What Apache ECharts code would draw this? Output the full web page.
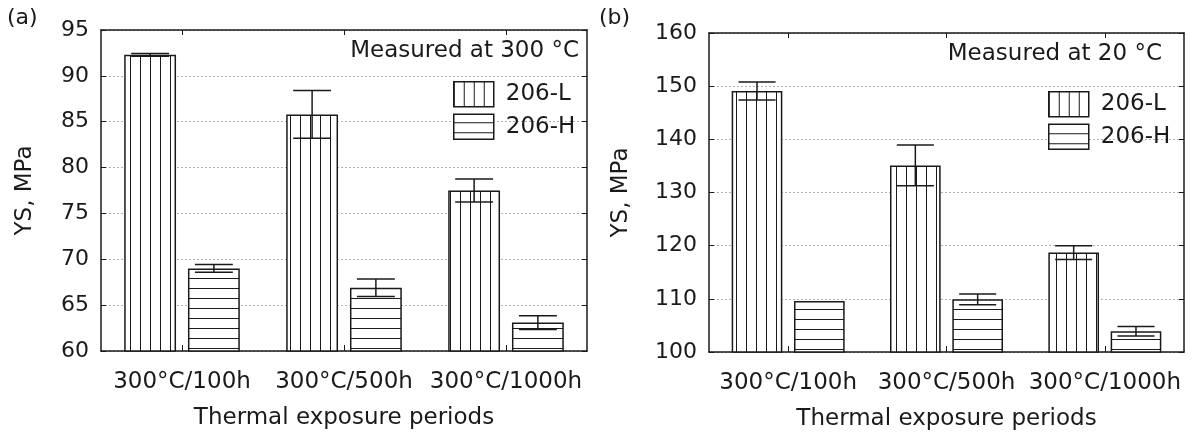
<!DOCTYPE html>
<html>
<head>
<meta charset="utf-8">
<script src="https://cdn.jsdelivr.net/npm/echarts@6/dist/echarts.min.js"></script>
<style>
  html, body { margin: 0; padding: 0; background: #fff; }
  #wrap { position: relative; width: 1192px; height: 438px; }
  .panel { position: absolute; top: 0; width: 596px; height: 438px; }
</style>
</head>
<body>
<div id="wrap">
  <div id="chartA" class="panel" style="left:0"></div>
  <div id="chartB" class="panel" style="left:596px"></div>
</div>
<script>
// categories / legend
var categories = ['300°C/100h', '300°C/500h', '300°C/1000h'];
var seriesNames = ['206-L', '206-H'];

// (a) measured at 300 C
var ysA_L = [92.3, 85.8, 77.5];
var ysA_H = [69.0, 66.9, 63.1];
var errA_L = [0.15, 2.6, 1.25];
var errA_H = [0.42, 0.95, 0.75];
var ticksA = { min: 60, max: 95, interval: 5 };

// (b) measured at 20 C
var ysB_L = [149.1, 135.1, 118.7];
var ysB_H = [109.6, 109.9, 103.9];
var errB_L = [1.7, 3.85, 1.3];
var errB_H = [0, 1.0, 0.9];
var ticksB = { min: 100, max: 160, interval: 10 };

var FONT = 'DejaVu Sans';
var INK = '#1a1a1a';
var BAR_W = 0.32;   // bar width, part of the band
var GAP = 0.23;     // gap between the pair, part of the bar width
var CAP = 0.117;    // half cap width, part of the band

// striped fill, drawn once into a small canvas
function stripe(vertical, offset) {
	var c = document.createElement('canvas');
	c.width = 10;
	c.height = 10;
	var ctx = c.getContext('2d');
	ctx.fillStyle = '#fff';
	ctx.fillRect(0, 0, 10, 10);
	ctx.fillStyle = INK;
	if (vertical) {
		ctx.fillRect(offset, 0, 1, 10);
	} else {
		ctx.fillRect(0, offset, 10, 1);
	}
	return { image: c, repeat: 'repeat' };
}

function errData(vals, errs, side) {
	var out = [];
	for (var i = 0; i < vals.length; i++) {
		if (errs[i] > 0) {
			out.push([i, vals[i] - errs[i], vals[i] + errs[i], side]);
		}
	}
	return out;
}

function renderErr(params, api) {
	var band = api.size([1, 0])[0];
	var off = api.value(3) * band * (BAR_W + BAR_W * GAP) / 2;
	var top = api.coord([api.value(0), api.value(2)]);
	var bot = api.coord([api.value(0), api.value(1)]);
	var x = top[0] + off;
	var half = band * CAP;
	var st = { stroke: INK, lineWidth: 1.5 };
	return {
		type: 'group',
		children: [
			{ type: 'line', shape: { x1: x, y1: top[1], x2: x, y2: bot[1] }, style: st },
			{ type: 'line', shape: { x1: x - half, y1: top[1], x2: x + half, y2: top[1] }, style: st },
			{ type: 'line', shape: { x1: x - half, y1: bot[1], x2: x + half, y2: bot[1] }, style: st }
		]
	};
}

function buildOption(cfg) {
	var lineStyle = { color: INK, width: 1.5 };
	var yBase = {
		type: 'value',
		min: cfg.ticks.min,
		max: cfg.ticks.max,
		interval: cfg.ticks.interval,
		axisLine: { show: true, lineStyle: lineStyle },
		axisTick: { show: true, inside: true, length: 5, lineStyle: { color: INK, width: 1 } }
	};
	var xBase = {
		type: 'category',
		data: categories,
		axisLine: { show: true, lineStyle: lineStyle },
		axisTick: { show: true, inside: true, alignWithLabel: true, length: 6, lineStyle: { color: INK, width: 1 } }
	};
	return {
		animation: false,
		backgroundColor: '#fff',
		title: [{
			text: cfg.tag,
			left: cfg.tagLeft,
			top: 7,
			padding: 0,
			textStyle: { fontFamily: FONT, fontSize: 22, fontWeight: 'normal', color: INK }
		}, {
			text: cfg.note,
			right: cfg.noteRight,
			top: cfg.noteTop,
			padding: 0,
			textStyle: { fontFamily: FONT, fontSize: 23, fontWeight: 'normal', color: INK }
		}],
		legend: {
			data: seriesNames,
			orient: 'vertical',
			left: cfg.legendLeft,
			top: cfg.legendTop,
			itemWidth: 40,
			itemHeight: 25,
			itemGap: 6,
			icon: 'rect',
			selectedMode: false,
			itemStyle: { borderColor: INK, borderWidth: 1.5 },
			textStyle: { fontFamily: FONT, fontSize: 23, color: INK, padding: [0, 0, 0, 7] }
		},
		grid: {
			left: cfg.grid[0], top: cfg.grid[1], right: cfg.grid[2], bottom: cfg.grid[3],
			containLabel: false
		},
		xAxis: [Object.assign({}, xBase, {
			position: 'bottom',
			name: 'Thermal exposure periods',
			nameLocation: 'middle',
			nameGap: 56,
			nameTextStyle: { fontFamily: FONT, fontSize: 23, color: INK },
			axisLabel: { interval: 0, fontFamily: FONT, fontSize: 23, color: INK, margin: 20 }
		}), Object.assign({}, xBase, {
			position: 'top',
			axisLabel: { show: false },
			axisTick: { show: true, inside: true, alignWithLabel: true, length: 5, lineStyle: { color: INK, width: 1 } }
		})],
		yAxis: [Object.assign({}, yBase, {
			position: 'left',
			name: 'YS, MPa',
			nameLocation: 'middle',
			nameRotate: 90,
			nameGap: cfg.nameGap,
			nameTextStyle: { fontFamily: FONT, fontSize: 23, color: INK },
			axisLabel: { fontFamily: FONT, fontSize: 22, color: INK, margin: 12 },
			splitLine: { show: true, lineStyle: { color: '#b0b0b0', width: 1, type: [2, 2] } }
		}), Object.assign({}, yBase, {
			position: 'right',
			axisLabel: { show: false },
			splitLine: { show: false }
		})],
		series: [{
			name: seriesNames[0],
			type: 'bar',
			data: cfg.L,
			barWidth: (BAR_W * 100) + '%',
			barGap: (GAP * 100) + '%',
			itemStyle: { color: stripe(true, cfg.vOff), borderColor: INK, borderWidth: 1.5 },
			emphasis: { disabled: true }
		}, {
			name: seriesNames[1],
			type: 'bar',
			data: cfg.H,
			barWidth: (BAR_W * 100) + '%',
			barGap: (GAP * 100) + '%',
			itemStyle: { color: stripe(false, cfg.hOff), borderColor: INK, borderWidth: 1.5 },
			emphasis: { disabled: true }
		}, {
			type: 'custom',
			renderItem: renderErr,
			data: errData(cfg.L, cfg.errL, -1).concat(errData(cfg.H, cfg.errH, 1)),
			encode: { x: 0, y: [1, 2] },
			z: 5,
			silent: true
		}]
	};
}

var chartA = echarts.init(document.getElementById('chartA'));
chartA.setOption(buildOption({
	tag: '(a)', tagLeft: 7,
	note: 'Measured at 300 °C', noteRight: 17, noteTop: 40,
	legendLeft: 448, legendTop: 76,
	grid: [101, 30, 9, 87],
	nameGap: 64,
	ticks: ticksA,
	L: ysA_L, H: ysA_H, errL: errA_L, errH: errA_H,
	vOff: 0, hOff: 8
}));

var chartB = echarts.init(document.getElementById('chartB'));
chartB.setOption(buildOption({
	tag: '(b)', tagLeft: 3,
	note: 'Measured at 20 °C', noteRight: 30, noteTop: 43,
	legendLeft: 447, legendTop: 86,
	grid: [113, 33, 8, 86],
	nameGap: 76,
	ticks: ticksB,
	L: ysB_L, H: ysB_H, errL: errB_L, errH: errB_H,
	vOff: 0, hOff: 9
}));
</script>
</body>
</html>
